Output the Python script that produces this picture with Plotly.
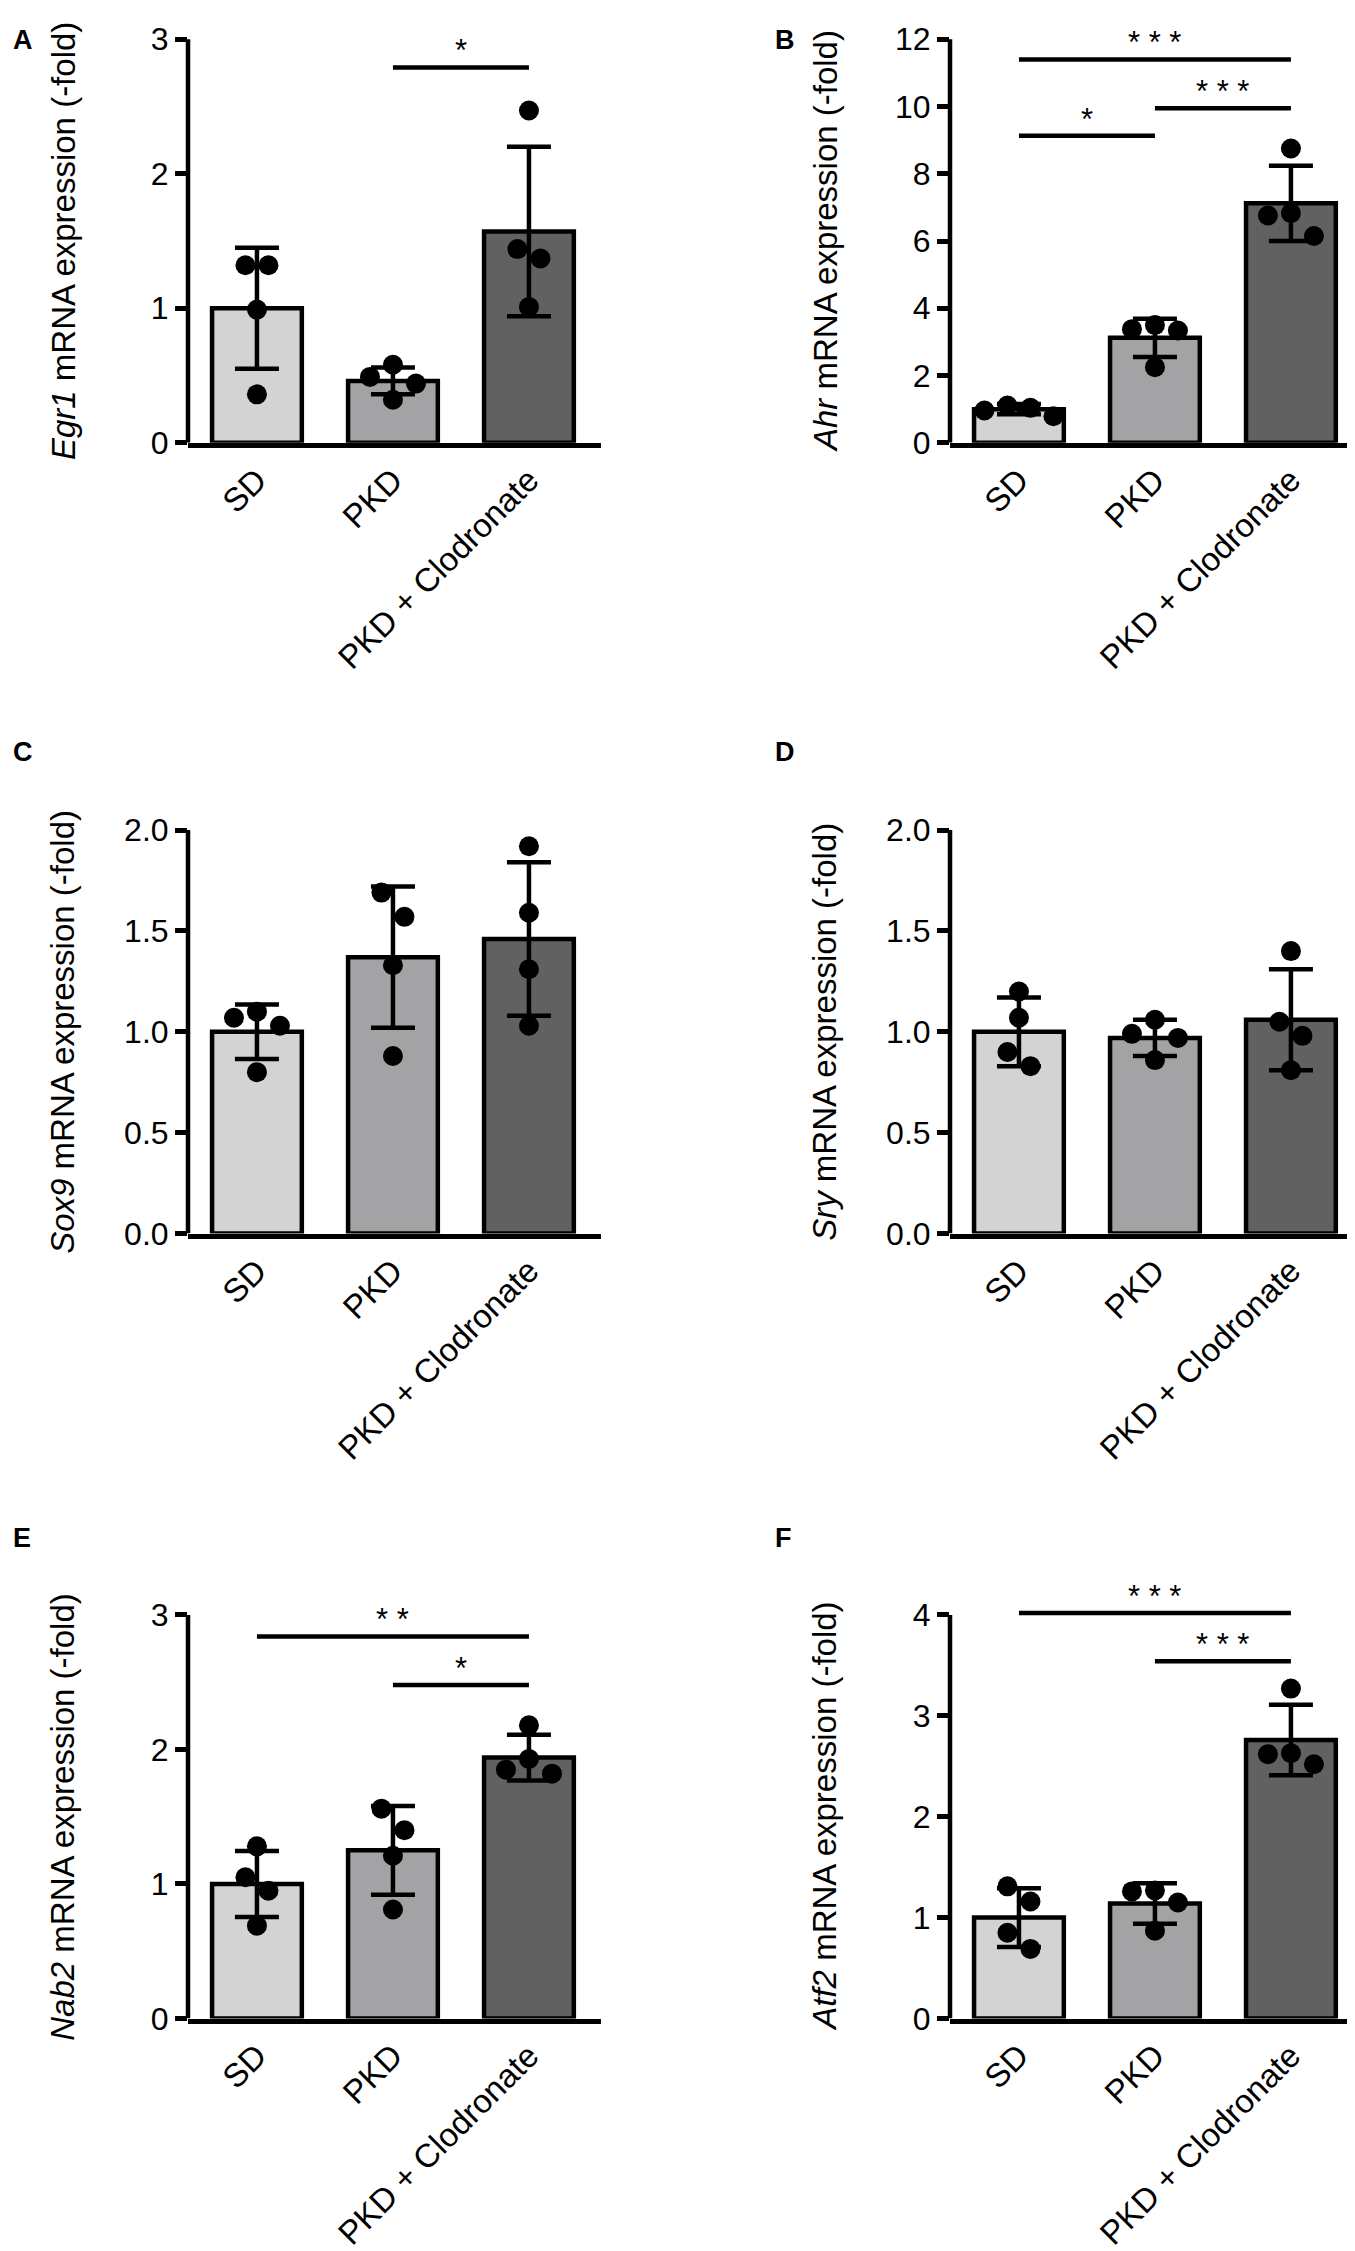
import plotly.graph_objects as go

# groups shown on every panel
groups = ["SD", "PKD", "PKD + Clodronate"]

# Egr1
egr1_mean = [1.00, 0.46, 1.57]
egr1_sd = [0.45, 0.10, 0.63]
egr1_pts = [[1.32, 1.32, 0.99, 0.36], [0.58, 0.49, 0.44, 0.32], [2.47, 1.44, 1.37, 1.01]]
egr1_sig = [(1, 2, "*", 2.79)]

# Ahr
ahr_mean = [1.00, 3.12, 7.12]
ahr_sd = [0.15, 0.57, 1.12]
ahr_pts = [[1.11, 1.04, 0.96, 0.79], [3.50, 3.38, 3.34, 2.25], [8.75, 6.83, 6.76, 6.15]]
ahr_sig = [(0, 2, "***", 11.4), (1, 2, "***", 9.95), (0, 1, "*", 9.13)]

# Sox9
sox9_mean = [1.00, 1.37, 1.46]
sox9_sd = [0.135, 0.35, 0.38]
sox9_pts = [[1.10, 1.07, 1.03, 0.80], [1.69, 1.57, 1.33, 0.88], [1.92, 1.59, 1.31, 1.03]]
sox9_sig = []

# Sry
sry_mean = [1.00, 0.97, 1.06]
sry_sd = [0.17, 0.09, 0.25]
sry_pts = [[1.20, 1.07, 0.90, 0.83], [1.06, 0.99, 0.97, 0.86], [1.40, 1.05, 0.98, 0.81]]
sry_sig = []

# Nab2
nab2_mean = [1.00, 1.25, 1.94]
nab2_sd = [0.245, 0.33, 0.17]
nab2_pts = [[1.28, 1.05, 0.95, 0.69], [1.56, 1.40, 1.21, 0.81], [2.18, 1.93, 1.85, 1.82]]
nab2_sig = [(0, 2, "**", 2.84), (1, 2, "*", 2.48)]

# Atf2
atf2_mean = [1.00, 1.14, 2.76]
atf2_sd = [0.29, 0.20, 0.35]
atf2_pts = [[1.31, 1.16, 0.85, 0.69], [1.27, 1.26, 1.15, 0.87], [3.27, 2.63, 2.62, 2.52]]
atf2_sig = [(0, 2, "***", 4.02), (1, 2, "***", 3.54)]

W, H = 1355, 2251
FONT = "Liberation Sans, Arial, sans-serif"
colors = ["#d3d3d3", "#a3a3a6", "#616161"]
XPPU = 136.0          # px per category
XR = [-0.507, 2.53]
LW = 4.5
AXLEN = 409.0         # px length of every y axis


def swarm(vals, ppu, gap=23, thresh=26):
    # graphpad-like scatter: points close in y share a row, rows centred
    order = sorted(range(len(vals)), key=lambda k: -vals[k])
    rows = []
    for k in order:
        if rows and (vals[rows[-1][0]] - vals[k]) * ppu < thresh:
            rows[-1].append(k)
        else:
            rows.append([k])
    off = [0.0] * len(vals)
    for row in rows:
        n = len(row)
        if n % 2:
            slots = [0]
            for s in range(1, n // 2 + 1):
                slots += [-s, s]
        else:
            slots = []
            for s in range(1, n // 2 + 1):
                slots += [-s + 0.5, s - 0.5]
        for k, s in zip(row, slots):
            off[k] = s * gap / XPPU
    return off


panels = [
    dict(letter="A", gene="Egr1", mean=egr1_mean, sd=egr1_sd, pts=egr1_pts, sig=egr1_sig,
         ticks=[0, 1, 2, 3], fmt="{:.0f}", ax=180, y0=428.5, top=3.1, ly=20),
    dict(letter="B", gene="Ahr", mean=ahr_mean, sd=ahr_sd, pts=ahr_pts, sig=ahr_sig,
         ticks=[0, 2, 4, 6, 8, 10, 12], fmt="{:.0f}", ax=942, y0=428.5, top=12.45, ly=20),
    dict(letter="C", gene="Sox9", mean=sox9_mean, sd=sox9_sd, pts=sox9_pts, sig=sox9_sig,
         ticks=[0, 0.5, 1.0, 1.5, 2.0], fmt="{:.1f}", ax=180, y0=1230, top=2.03, ly=742),
    dict(letter="D", gene="Sry", mean=sry_mean, sd=sry_sd, pts=sry_pts, sig=sry_sig,
         ticks=[0, 0.5, 1.0, 1.5, 2.0], fmt="{:.1f}", ax=942, y0=1230, top=2.03, ly=742),
    dict(letter="E", gene="Nab2", mean=nab2_mean, sd=nab2_sd, pts=nab2_pts, sig=nab2_sig,
         ticks=[0, 1, 2, 3], fmt="{:.0f}", ax=180, y0=2025.5, top=3.15, ly=1538),
    dict(letter="F", gene="Atf2", mean=atf2_mean, sd=atf2_sd, pts=atf2_pts, sig=atf2_sig,
         ticks=[0, 1, 2, 3, 4], fmt="{:.0f}", ax=942, y0=2025.5, top=4.45, ly=1538),
]

fig = go.Figure()
shapes = []
annots = []
layout = {}

for n, p in enumerate(panels, 1):
    xa = "x" if n == 1 else "x%d" % n
    ya = "y" if n == 1 else "y%d" % n
    ppu = AXLEN / p["ticks"][-1]
    dx = [p["ax"] / W, min(1.0, (p["ax"] + (XR[1] - XR[0]) * XPPU) / W)]
    dy = [1 - p["y0"] / H, 1 - (p["y0"] - p["top"] * ppu) / H]

    fig.add_trace(go.Bar(
        x=[0, 1, 2], y=p["mean"], width=0.66, xaxis=xa, yaxis=ya, showlegend=False,
        marker=dict(color=colors, line=dict(color="black", width=LW)),
        error_y=dict(type="data", array=p["sd"], color="black", thickness=LW, width=22)))

    for i, vals in enumerate(p["pts"]):
        off = swarm(vals, ppu)
        fig.add_trace(go.Scatter(
            x=[i + o for o in off], y=vals, mode="markers", xaxis=xa, yaxis=ya,
            marker=dict(color="black", size=20), showlegend=False, cliponaxis=False))

    for i, j, lab, h in p["sig"]:
        fig.add_trace(go.Scatter(
            x=[i, j], y=[h, h], mode="lines", xaxis=xa, yaxis=ya,
            line=dict(color="black", width=LW), showlegend=False))
        annots.append(dict(x=(i + j) / 2, y=h, xref=xa, yref=ya, text=" ".join(lab),
                           showarrow=False, yanchor="bottom", yshift=-3,
                           font=dict(size=31, color="black", family=FONT)))

    layout["xaxis" if n == 1 else "xaxis%d" % n] = dict(
        domain=dx, range=XR, anchor=ya, showline=True, linewidth=LW, linecolor="black",
        ticks="", tickvals=[0, 1, 2], ticktext=groups, tickangle=-45,
        tickfont=dict(size=33, color="black", family=FONT),
        showgrid=False, zeroline=False)
    layout["yaxis" if n == 1 else "yaxis%d" % n] = dict(
        domain=dy, range=[0, p["top"]], anchor=xa, showline=False,
        ticks="outside", ticklen=12, tickwidth=LW, tickcolor="black",
        tickvals=p["ticks"], ticktext=[p["fmt"].format(t) for t in p["ticks"]],
        tickfont=dict(size=32, color="black", family=FONT),
        showgrid=False, zeroline=False)

    # y axis line stops at the last tick
    shapes.append(dict(type="line", xref="paper", yref=ya, x0=dx[0], x1=dx[0],
                       y0=0, y1=p["ticks"][-1], line=dict(color="black", width=LW)))

    ymid = 1 - (p["y0"] - AXLEN / 2) / H
    annots.append(dict(x=(p["ax"] - 125) / W, y=ymid, xref="paper", yref="paper",
                       text="<i>%s</i> mRNA expression (-fold)" % p["gene"],
                       textangle=-90, showarrow=False, xanchor="center", yanchor="middle",
                       font=dict(size=33, color="black", family=FONT)))
    annots.append(dict(x=(p["ax"] - 177) / W, y=1 - p["ly"] / H, xref="paper", yref="paper",
                       text="<b>%s</b>" % p["letter"], showarrow=False,
                       xanchor="left", yanchor="middle",
                       font=dict(size=27, color="black", family=FONT)))

fig.update_layout(
    width=W, height=H, margin=dict(l=0, r=0, t=0, b=0),
    paper_bgcolor="white", plot_bgcolor="white",
    font=dict(family=FONT, color="black"),
    shapes=shapes, annotations=annots, showlegend=False,
    **layout)

fig.write_html("out.html")
